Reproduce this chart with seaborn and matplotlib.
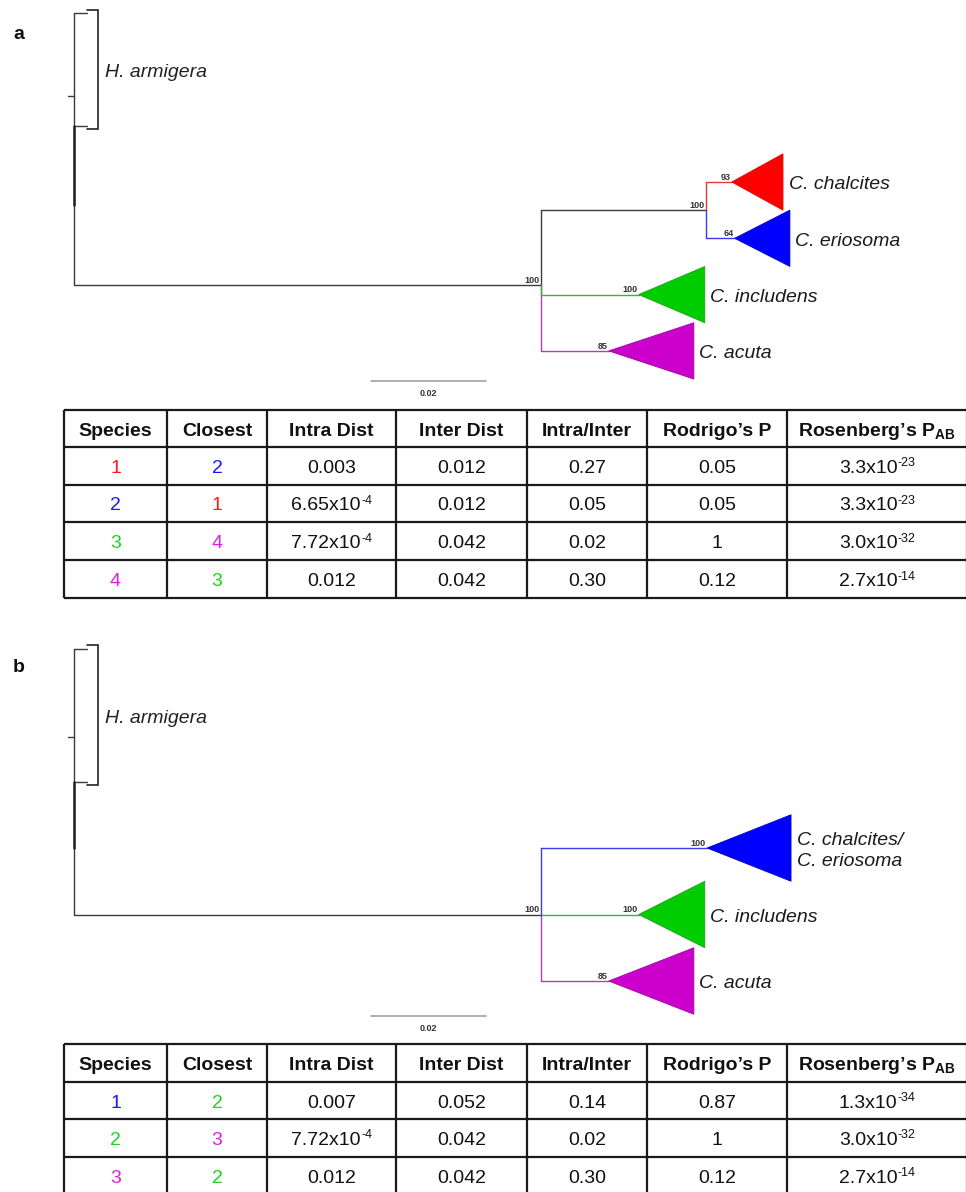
import numpy as np
import pandas as pd
import matplotlib
matplotlib.use("Agg")
import matplotlib.pyplot as plt
import seaborn as sns

sns.set_theme(style="white")
plt.rcParams["font.family"] = ["Liberation Sans", "DejaVu Sans"]
plt.rcParams["mathtext.fontset"] = "custom"
plt.rcParams["mathtext.rm"] = "Liberation Sans"
plt.rcParams["mathtext.it"] = "Liberation Sans:italic"
plt.rcParams["mathtext.bf"] = "Liberation Sans:bold"

# ------------------------------------------------------------------ data
# Panel a tree (branch lengths in substitutions/site)
a_clades = ["C. chalcites", "C. eriosoma", "C. includens", "C. acuta"]
a_groups = [[0, 1], [2], [3]]
a_group_stem = [0.0287, 0.0, 0.0]
a_group_support = [100, None, None]
a_stem = 0.0812
a_root_support = 100
a_branch = [0.0045, 0.0050, 0.0170, 0.0118]
a_depth = [0.0089, 0.0096, 0.0115, 0.0148]
a_support = [93, 64, 100, 85]
a_keys = ["red", "blue", "green", "magenta"]

# Panel b tree
b_clades = ["C. chalcites/\nC. eriosoma", "C. includens", "C. acuta"]
b_groups = [[0], [1], [2]]
b_group_stem = [0.0, 0.0, 0.0]
b_group_support = [None, None, None]
b_stem = 0.0812
b_root_support = 100
b_branch = [0.0289, 0.0170, 0.0118]
b_depth = [0.0146, 0.0115, 0.0148]
b_support = [100, 100, 85]
b_keys = ["blue", "green", "magenta"]

outgroup = "H. armigera"
harm_slots = [-3.0, -1.0]
harm_len = 0.0023
scale_len = 0.02

# Tables
tab_header = ["Species", "Closest", "Intra Dist", "Inter Dist", "Intra/Inter",
              "Rodrigo\u2019s P", "Rosenberg\u2019s P$_{\\mathbf{AB}}$"]
a_species = ["1", "2", "3", "4"]
a_species_keys = ["red", "blue", "green", "magenta"]
a_closest = ["2", "1", "4", "3"]
a_closest_keys = ["blue", "red", "magenta", "green"]
a_intra = ["0.003", "6.65x10^-4", "7.72x10^-4", "0.012"]
a_inter = ["0.012", "0.012", "0.042", "0.042"]
a_ratio = ["0.27", "0.05", "0.02", "0.30"]
a_rodrigo = ["0.05", "0.05", "1", "0.12"]
a_rosen = ["3.3x10^-23", "3.3x10^-23", "3.0x10^-32", "2.7x10^-14"]

b_species = ["1", "2", "3"]
b_species_keys = ["blue", "green", "magenta"]
b_closest = ["2", "3", "2"]
b_closest_keys = ["green", "magenta", "green"]
b_intra = ["0.007", "7.72x10^-4", "0.012"]
b_inter = ["0.052", "0.042", "0.042"]
b_ratio = ["0.14", "0.02", "0.30"]
b_rodrigo = ["0.87", "1", "0.12"]
b_rosen = ["1.3x10^-34", "3.0x10^-32", "2.7x10^-14"]

# ------------------------------------------------------------------ style
fill_col = {"red": "#FF0000", "blue": "#0000FF", "green": "#00CC00", "magenta": "#CC00CC"}
edge_col = {"red": "#DD0000", "blue": "#0000CC", "green": "#22A022", "magenta": "#A000A0"}
line_col = {"black": "#3a3a3a", "red": "#E83A3A", "blue": "#3A3AF0",
            "green": "#3DB03D", "magenta": "#B040B0"}
text_col = {"red": "#FF1A1A", "blue": "#1A1AFF", "green": "#1ED31E", "magenta": "#E01EE0"}
hue_order = ["black", "magenta", "green", "red", "blue"]

W, H = 966, 1192
PPU = 5750.0          # pixels per substitution unit
ROOT_PX = 74.0

fig = plt.figure(figsize=(W / 100, H / 100), dpi=100)
ax0 = fig.add_axes([0, 0, 1, 1])
ax0.set_xlim(0, W)
ax0.set_ylim(H, 0)
ax0.axis("off")
renderer = fig.canvas.get_renderer()


def tree_axes(top_px, bot_px, slot0_px, slot_px):
    ax = fig.add_axes([0, 1 - bot_px / H, 1, (bot_px - top_px) / H])
    ax.set_xlim(-ROOT_PX / PPU, (W - ROOT_PX) / PPU)
    ax.set_ylim((bot_px - slot0_px) / slot_px, (top_px - slot0_px) / slot_px)
    ax.axis("off")
    ax.patch.set_alpha(0)
    return ax


def draw_tree(ax, clades, groups, group_stem, group_support, stem, root_support,
              branch, depth, support, keys, stub_slot, thick_to):
    n = len(clades)
    slots = np.arange(n, dtype=float)
    segs = []
    tips = []
    gys = []
    nodes_sup = []
    for g, gs, gsup in zip(groups, group_stem, group_support):
        if len(g) > 1:
            gx = stem + gs
            gy = slots[g].mean()
            gys.append((gy, "black"))
            segs.append((stem, gy, gx, gy, "black"))
            nodes_sup.append((gx, gy, gsup))
            for i in g:
                segs.append((gx, gy, gx, slots[i], keys[i]))
                segs.append((gx, slots[i], gx + branch[i], slots[i], keys[i]))
                tips.append((gx + branch[i], slots[i], i))
        else:
            i = g[0]
            gys.append((slots[i], keys[i]))
            segs.append((stem, slots[i], stem + branch[i], slots[i], keys[i]))
            tips.append((stem + branch[i], slots[i], i))
    ny = np.mean([y for y, _ in gys])
    for y, k in gys:
        segs.append((stem, ny, stem, y, k))
    # root & outgroup
    segs.append((0, ny, stem, ny, "black"))
    segs.append((0, harm_slots[0], 0, ny, "black"))
    for s in harm_slots:
        segs.append((0, s, harm_len, s, "black"))
    segs.append((-6 / PPU, stub_slot, 0, stub_slot, "black"))

    rows = []
    for j, (x0, y0, x1, y1, k) in enumerate(segs):
        rows.append({"x": x0, "y": y0, "seg": j, "c": k})
        rows.append({"x": x1, "y": y1, "seg": j, "c": k})
    df = pd.DataFrame(rows)
    sns.lineplot(data=df, x="x", y="y", units="seg", hue="c", hue_order=hue_order,
                 palette=line_col, estimator=None, sort=False, legend=False,
                 lw=1.0, ax=ax)
    thick = pd.DataFrame({"x": [0, 0], "y": [harm_slots[1], thick_to]})
    sns.lineplot(data=thick, x="x", y="y", estimator=None, sort=False,
                 color="#222222", lw=1.8, ax=ax)

    # outgroup bracket
    bx0, bx1 = harm_len, harm_len + 11 / PPU
    ax.plot([bx0, bx1, bx1, bx0], [harm_slots[0] - 0.05, harm_slots[0] - 0.05,
                                   harm_slots[1] + 0.05, harm_slots[1] + 0.05],
            color="#222222", lw=1.2, solid_joinstyle="miter")
    ax.annotate(outgroup, (bx1, np.mean(harm_slots)), xytext=(5, -2.2),
                textcoords="offset points", ha="left", va="center",
                fontsize=14, style="italic", color="#222222")

    # collapsed clades
    for x, y, i in tips:
        ax.fill([x, x + depth[i], x + depth[i]], [y, y - 0.5, y + 0.5],
                facecolor=fill_col[keys[i]], edgecolor=edge_col[keys[i]], lw=0.6,
                zorder=3)
        ax.annotate(clades[i], (x + depth[i], y), xytext=(4, -2),
                    textcoords="offset points", ha="left", va="center",
                    fontsize=14, style="italic", color="#1a1a1a",
                    linespacing=1.3)
        ax.annotate(str(support[i]), (x, y), xytext=(-1, 1.6),
                    textcoords="offset points", ha="right", va="baseline",
                    fontsize=6.5, fontweight="bold", color="#333333")
    for x, y, s in nodes_sup:
        ax.annotate(str(s), (x, y), xytext=(-1, 1.6), textcoords="offset points",
                    ha="right", va="baseline", fontsize=6.5, fontweight="bold",
                    color="#333333")
    ax.annotate(str(root_support), (stem, ny), xytext=(-1, 1.6),
                textcoords="offset points", ha="right", va="baseline",
                fontsize=6.5, fontweight="bold", color="#333333")


def scale_bar(ax, x_px, y_px, slot0_px, slot_px):
    sx = (x_px - ROOT_PX) / PPU
    sy = (y_px - slot0_px) / slot_px
    ax.plot([sx, sx + scale_len], [sy, sy], color="#999999", lw=1.1)
    ax.annotate(f"{scale_len:g}", (sx + scale_len / 2, sy), xytext=(0, -6),
                textcoords="offset points", ha="center", va="top",
                fontsize=6.5, fontweight="bold", color="#333333")


# ---- panel a tree
axa = tree_axes(0, 405, 182, 56.3)
draw_tree(axa, a_clades, a_groups, a_group_stem, a_group_support, a_stem,
          a_root_support, a_branch, a_depth, a_support, a_keys,
          stub_slot=-1.53, thick_to=0.41)
scale_bar(axa, 371, 381, 182, 56.3)

# ---- panel b tree
axb = tree_axes(630, 1040, 848, 66.5)
draw_tree(axb, b_clades, b_groups, b_group_stem, b_group_support, b_stem,
          b_root_support, b_branch, b_depth, b_support, b_keys,
          stub_slot=-1.67, thick_to=0.0)
scale_bar(axb, 371, 1016, 848, 66.5)

# ---- panel letters
ax0.text(13, 39, "a", fontsize=14, fontweight="bold", ha="left", va="baseline",
         color="#111111")
ax0.text(13, 672, "b", fontsize=14, fontweight="bold", ha="left", va="baseline",
         color="#111111")

# ---- tables
col_edges = [64, 167, 267, 396, 527, 647, 787, 967]


def cell_text(cx, by, s, color):
    if "^" not in s:
        ax0.text(cx, by, s, ha="center", va="baseline", fontsize=14, color=color)
        return
    base, sup = s.split("^")
    t1 = ax0.text(cx, by, base, ha="left", va="baseline", fontsize=14, color=color)
    t2 = ax0.text(cx, by - 6.5, sup, ha="left", va="baseline", fontsize=9,
                  color=color)
    w1 = t1.get_window_extent(renderer).width
    w2 = t2.get_window_extent(renderer).width
    left = cx - (w1 + w2) / 2
    t1.set_x(left)
    t2.set_x(left + w1 + 0.5)


def draw_table(rows_y, columns, species_keys, closest_keys):
    lc = "#1a1a1a"
    ax0.hlines(rows_y, col_edges[0], col_edges[-1], color=lc, lw=1.6)
    ax0.vlines(col_edges, rows_y[0], rows_y[-1], color=lc, lw=1.6)
    centers = [(col_edges[k] + col_edges[k + 1]) / 2 for k in range(len(col_edges) - 1)]
    hy = (rows_y[0] + rows_y[1]) / 2 + 7.5
    for cx, h in zip(centers, tab_header):
        ax0.text(cx, hy, h, ha="center", va="baseline", fontsize=14,
                 fontweight="bold", color="#111111")
    for r in range(len(columns[0])):
        by = (rows_y[r + 1] + rows_y[r + 2]) / 2 + 7
        for c, (cx, col) in enumerate(zip(centers, columns)):
            if c == 0:
                color = text_col[species_keys[r]]
            elif c == 1:
                color = text_col[closest_keys[r]]
            else:
                color = "#111111"
            cell_text(cx, by, col[r], color)


draw_table([410, 447, 485, 522, 560, 598],
           [a_species, a_closest, a_intra, a_inter, a_ratio, a_rodrigo, a_rosen],
           a_species_keys, a_closest_keys)
draw_table([1044, 1082, 1119, 1157, 1195],
           [b_species, b_closest, b_intra, b_inter, b_ratio, b_rodrigo, b_rosen],
           b_species_keys, b_closest_keys)

fig.savefig("out.png", dpi=100)
